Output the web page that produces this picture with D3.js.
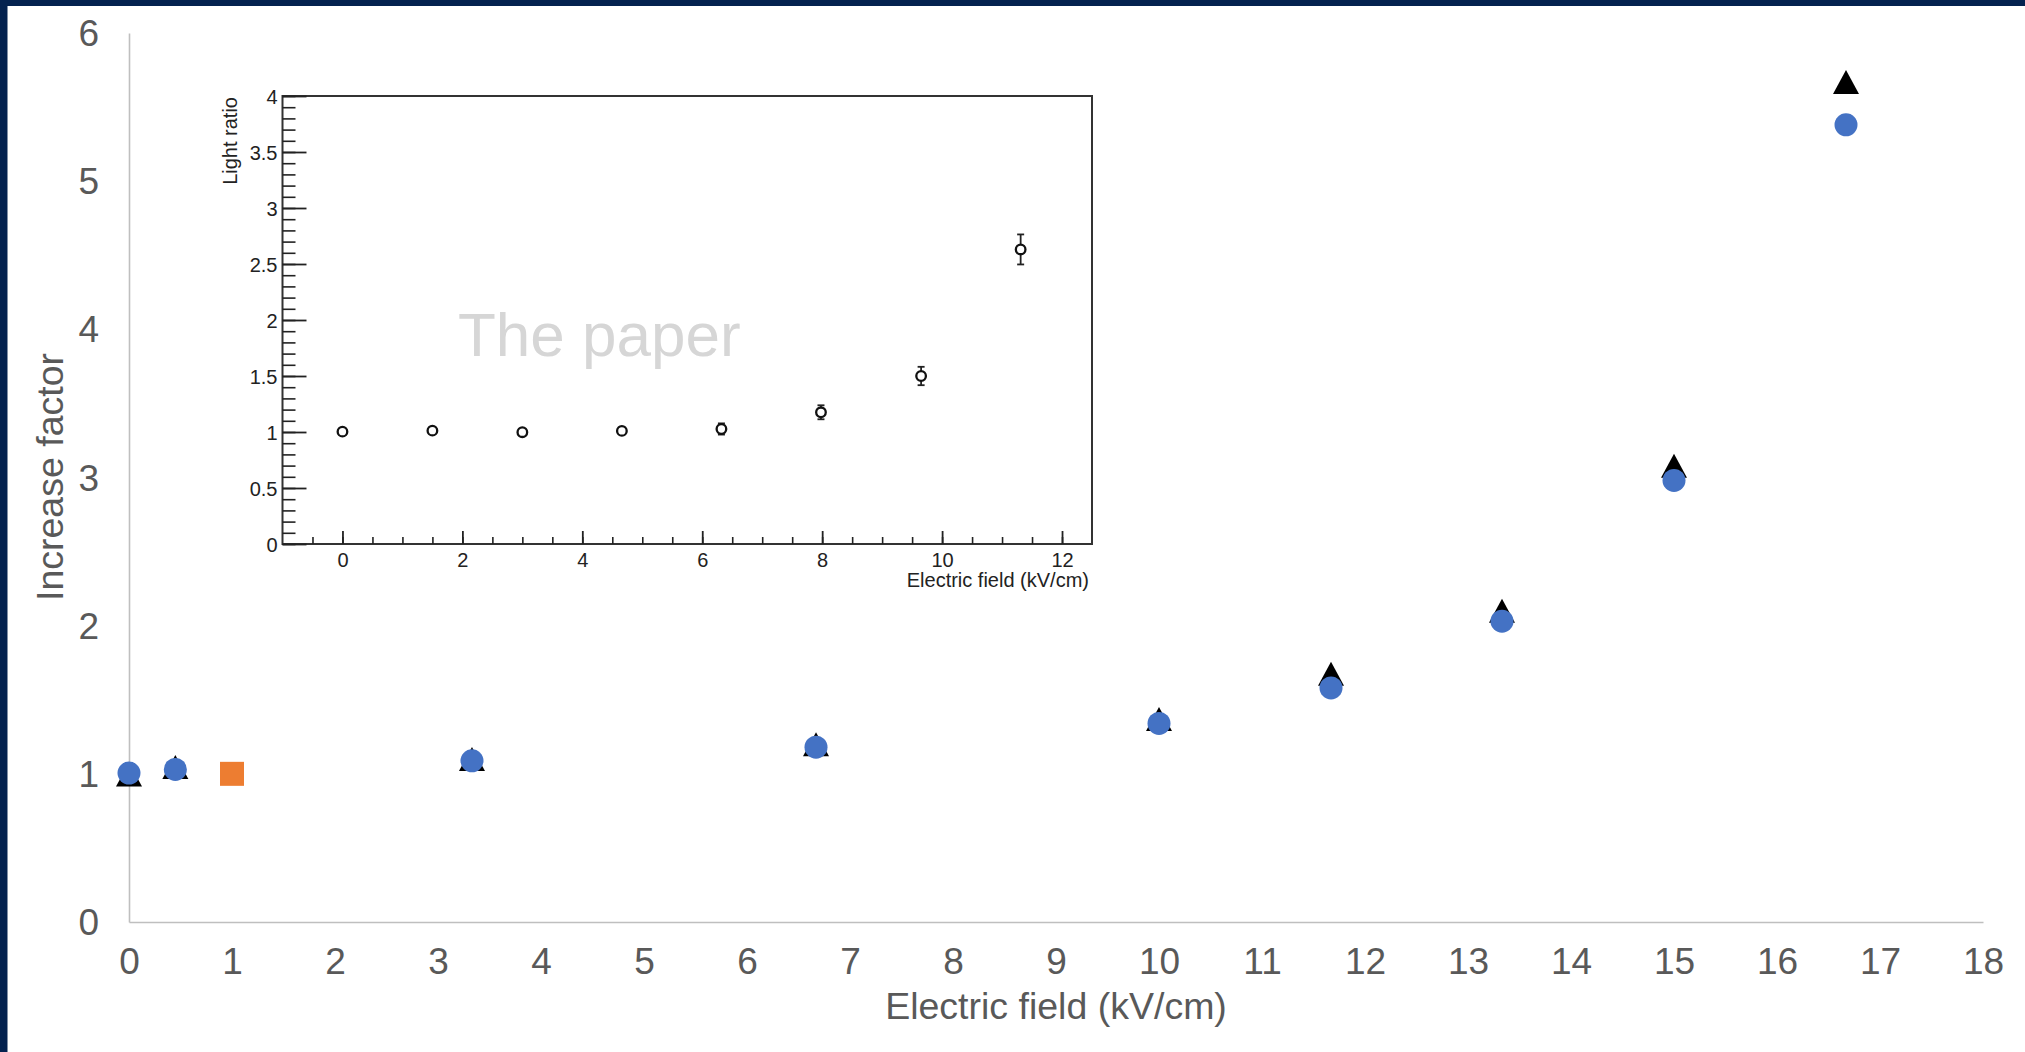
<!DOCTYPE html>
<html>
<head>
<meta charset="utf-8">
<script src="https://cdn.jsdelivr.net/npm/d3@7"></script>
<style>
  html, body { margin: 0; padding: 0; background: #ffffff; }
  svg { display: block; }
</style>
</head>
<body>
<script>
// ---------------- DATA ----------------
// Main chart
const mainXTicks = [0,1,2,3,4,5,6,7,8,9,10,11,12,13,14,15,16,17,18];
const mainYTicks = [0,1,2,3,4,5,6];
const fieldMain = [0, 0.45, 3.33, 6.67, 10, 11.67, 13.33, 15, 16.67];
const circleValues = [1.005, 1.03, 1.088, 1.18, 1.34, 1.58, 2.03, 2.98, 5.38];
const triangleValues = [0.995, 1.046, 1.10, 1.20, 1.37, 1.675, 2.10, 3.08, 5.67];
const squareField = [1];
const squareValues = [1.0];
const mainXTitle = "Electric field (kV/cm)";
const mainYTitle = "Increase factor";

// Inset ("The paper")
const insetXTicks = [0,2,4,6,8,10,12];
const insetYTicks = [0,0.5,1,1.5,2,2.5,3,3.5,4];
const insetField = [0, 1.5, 3.0, 4.66, 6.32, 7.98, 9.65, 11.31];
const insetValues = [1.003, 1.012, 0.998, 1.01, 1.027, 1.176, 1.50, 2.63];
const insetErrors = [0.03, 0.03, 0.03, 0.03, 0.05, 0.0625, 0.082, 0.134];
const insetXTitle = "Electric field (kV/cm)";
const insetYTitle = "Light ratio";
const watermark = "The paper";

// ---------------- DRAW ----------------
const W = 2025, H = 1052;
const FONT = "'Liberation Sans', Arial, Helvetica, sans-serif";
const svg = d3.select("body").append("svg").attr("width", W).attr("height", H);

svg.append("rect").attr("width", W).attr("height", H).attr("fill", "#ffffff");
// navy frame edges
svg.append("rect").attr("x", 0).attr("y", 0).attr("width", W).attr("height", 6).attr("fill", "#04224f");
svg.append("rect").attr("x", 0).attr("y", 0).attr("width", 7.5).attr("height", H).attr("fill", "#04224f");

// main scales
const x = d3.scaleLinear().domain([0, 18]).range([129, 1983]);
const y = d3.scaleLinear().domain([0, 6]).range([922, 33]);

const gray = "#595959";
const axisGray = "#bfbfbf";

// x axis
const gx = svg.append("g").attr("transform", `translate(0,${y(0)})`)
  .call(d3.axisBottom(x).tickValues(mainXTicks).tickSizeInner(0).tickSizeOuter(0).tickFormat(d3.format("d")));
gx.select(".domain").attr("stroke", axisGray).attr("stroke-width", 1.6);
gx.selectAll(".tick line").remove();
gx.selectAll("text").attr("y", 39).attr("dy", null).attr("dominant-baseline", "central")
  .attr("fill", gray).style("font-family", FONT).style("font-size", "37px");

// y axis
const gy = svg.append("g").attr("transform", `translate(${x(0)},0)`)
  .call(d3.axisLeft(y).tickValues(mainYTicks).tickSizeInner(0).tickSizeOuter(0).tickFormat(d3.format("d")));
gy.select(".domain").attr("stroke", axisGray).attr("stroke-width", 1.6);
gy.selectAll(".tick line").remove();
gy.selectAll("text").attr("x", -30).attr("dy", null).attr("dominant-baseline", "central")
  .attr("fill", gray).style("font-family", FONT).style("font-size", "37px");

// axis titles
svg.append("text").attr("x", (x(0) + x(18)) / 2).attr("y", 1006)
  .attr("text-anchor", "middle").attr("dominant-baseline", "central")
  .attr("fill", gray).style("font-family", FONT).style("font-size", "37.5px").text(mainXTitle);
svg.append("text").attr("transform", `translate(50,477) rotate(-90)`)
  .attr("text-anchor", "middle").attr("dominant-baseline", "central")
  .attr("fill", gray).style("font-family", FONT).style("font-size", "37.5px").text(mainYTitle);

// ---------------- INSET ----------------
const xi = d3.scaleLinear().domain([-1, 12.5]).range([282.5, 1092]);
const yi = d3.scaleLinear().domain([0, 4]).range([544, 96]);
const ink = "#222222";
const inset = svg.append("g");

inset.append("rect").attr("x", xi(-1)).attr("y", yi(4))
  .attr("width", xi(12.5) - xi(-1)).attr("height", yi(0) - yi(4))
  .attr("fill", "#ffffff").attr("stroke", "#333333").attr("stroke-width", 2);

// watermark
inset.append("text").attr("x", 458).attr("y", 356)
  .attr("fill", "#d6d6d6").style("font-family", FONT).style("font-size", "62px").text(watermark);

// x minor ticks
const gxm = inset.append("g").attr("transform", `translate(0,${yi(0)})`)
  .call(d3.axisBottom(xi).tickValues(d3.range(-0.5, 12.01, 0.5)).tickSizeInner(-7).tickSizeOuter(0).tickFormat(""));
gxm.select(".domain").remove();
gxm.selectAll(".tick line").attr("stroke", ink).attr("stroke-width", 1.6);
// x major ticks
const gxi = inset.append("g").attr("transform", `translate(0,${yi(0)})`)
  .call(d3.axisBottom(xi).tickValues(insetXTicks).tickSizeInner(-13).tickSizeOuter(0).tickPadding(0).tickFormat(d3.format("d")));
gxi.select(".domain").remove();
gxi.selectAll(".tick line").attr("stroke", ink).attr("stroke-width", 1.8);
gxi.selectAll("text").attr("y", 16).attr("dy", null).attr("dominant-baseline", "central")
  .attr("fill", ink).style("font-family", FONT).style("font-size", "20px");

// y minor ticks
const gym = inset.append("g").attr("transform", `translate(${xi(-1)},0)`)
  .call(d3.axisLeft(yi).tickValues(d3.range(0, 4.001, 0.1)).tickSizeInner(-13).tickSizeOuter(0).tickFormat(""));
gym.select(".domain").remove();
gym.selectAll(".tick line").attr("stroke", ink).attr("stroke-width", 1.6);
// y major ticks
const gyi = inset.append("g").attr("transform", `translate(${xi(-1)},0)`)
  .call(d3.axisLeft(yi).tickValues(insetYTicks).tickSizeInner(-24).tickSizeOuter(0).tickPadding(0).tickFormat(d3.format("~g")));
gyi.select(".domain").remove();
gyi.selectAll(".tick line").attr("stroke", ink).attr("stroke-width", 1.8);
gyi.selectAll("text").attr("x", -5).attr("dy", null).attr("dominant-baseline", "central")
  .attr("fill", ink).style("font-family", FONT).style("font-size", "20px");

// inset titles
inset.append("text").attr("x", 1089).attr("y", 580)
  .attr("text-anchor", "end").attr("dominant-baseline", "central")
  .attr("fill", ink).style("font-family", FONT).style("font-size", "20px").text(insetXTitle);
inset.append("text").attr("transform", `translate(230,${yi(4) + 1}) rotate(-90)`)
  .attr("text-anchor", "end").attr("dominant-baseline", "central")
  .attr("fill", ink).style("font-family", FONT).style("font-size", "20px").text(insetYTitle);

// inset points with error bars
const insetData = insetField.map((f, i) => ({ f, v: insetValues[i], e: insetErrors[i] }));
const ip = inset.append("g").selectAll("g").data(insetData).join("g");
ip.append("line")
  .attr("x1", d => xi(d.f)).attr("x2", d => xi(d.f))
  .attr("y1", d => yi(d.v - d.e)).attr("y2", d => yi(d.v + d.e))
  .attr("stroke", ink).attr("stroke-width", 1.8);
ip.append("line")
  .attr("x1", d => xi(d.f) - 3.5).attr("x2", d => xi(d.f) + 3.5)
  .attr("y1", d => yi(d.v + d.e)).attr("y2", d => yi(d.v + d.e))
  .attr("stroke", ink).attr("stroke-width", 1.8);
ip.append("line")
  .attr("x1", d => xi(d.f) - 3.5).attr("x2", d => xi(d.f) + 3.5)
  .attr("y1", d => yi(d.v - d.e)).attr("y2", d => yi(d.v - d.e))
  .attr("stroke", ink).attr("stroke-width", 1.8);
ip.append("circle")
  .attr("cx", d => xi(d.f)).attr("cy", d => yi(d.v)).attr("r", 4.8)
  .attr("fill", "#ffffff").attr("stroke", "#111111").attr("stroke-width", 2.3);

// ---------------- MAIN MARKERS ----------------
const triData = fieldMain.map((f, i) => ({ f, v: triangleValues[i] }));
const circData = fieldMain.map((f, i) => ({ f, v: circleValues[i] }));
const sqData = squareField.map((f, i) => ({ f, v: squareValues[i] }));

svg.append("g").selectAll("path").data(triData).join("path")
  .attr("transform", d => `translate(${x(d.f)},${y(d.v)})`)
  .attr("d", "M0,-12L13,12L-13,12Z")
  .attr("fill", "#000000");

svg.append("g").selectAll("circle").data(circData).join("circle")
  .attr("cx", d => x(d.f)).attr("cy", d => y(d.v)).attr("r", 11.5)
  .attr("fill", "#4472c4");

svg.append("g").selectAll("rect").data(sqData).join("rect")
  .attr("x", d => x(d.f) - 12).attr("y", d => y(d.v) - 12)
  .attr("width", 24).attr("height", 24)
  .attr("fill", "#ed7d31");
</script>
</body>
</html>
